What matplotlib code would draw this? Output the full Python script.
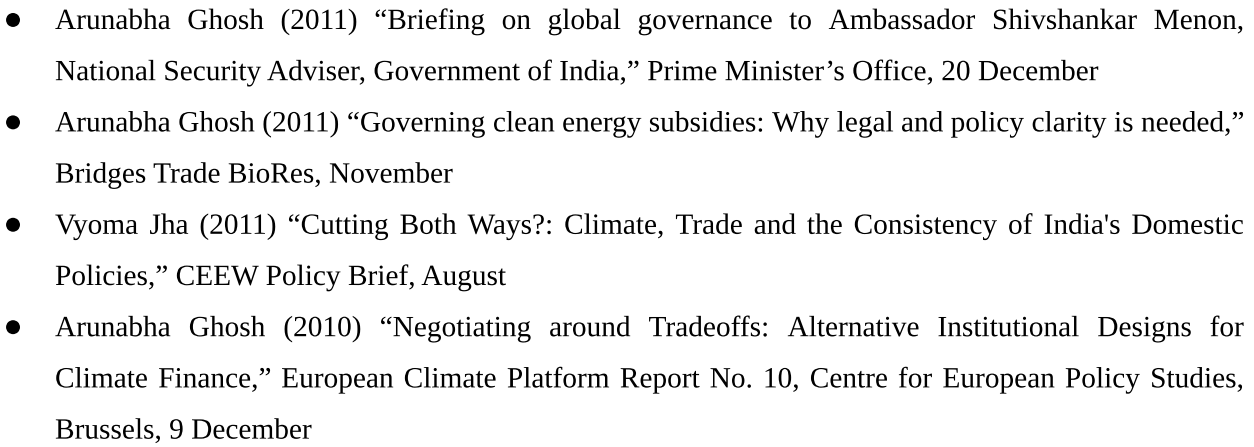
import matplotlib
matplotlib.use("Agg")
import matplotlib.pyplot as plt
import matplotlib.patheffects as pe

# ---- content ----
lines = [
    "Arunabha Ghosh (2011) \u201cBriefing on global governance to Ambassador Shivshankar Menon,",
    "National Security Adviser, Government of India,\u201d Prime Minister\u2019s Office, 20 December",
    "Arunabha Ghosh (2011) \u201cGoverning clean energy subsidies: Why legal and policy clarity is needed,\u201d",
    "Bridges Trade BioRes, November",
    "Vyoma Jha (2011) \u201cCutting Both Ways?: Climate, Trade and the Consistency of India's Domestic",
    "Policies,\u201d CEEW Policy Brief, August",
    "Arunabha Ghosh (2010) \u201cNegotiating around Tradeoffs: Alternative Institutional Designs for",
    "Climate Finance,\u201d European Climate Platform Report No. 10, Centre for European Policy Studies,",
    "Brussels, 9 December",
]
bullet_flags = [True, False, True, False, True, False, True, False, False]
justify_flags = [True, False, True, False, True, False, True, True, False]

# ---- layout ----
W, H = 1254, 447
DPI = 100
font_px = 29.35
font_pt = font_px * 72 / DPI
left_x = 55
right_x = 1244
bullet_x = 13
first_base = 29
line_gap = 51.2

fig = plt.figure(figsize=(W / DPI, H / DPI), dpi=DPI)
ax = fig.add_axes([0, 0, 1, 1])
ax.set_xlim(0, W)
ax.set_ylim(H, 0)
ax.axis("off")
fig.canvas.draw()
renderer = fig.canvas.get_renderer()

fam = "Liberation Serif"
fx = [pe.Normal()]  # draw glyphs as vector outlines -> consistent baselines

def text_w(s):
    t = ax.text(0, 0, s, fontsize=font_pt, family=fam)
    bb = t.get_window_extent(renderer=renderer)
    t.remove()
    return bb.width

for i, (s, b, j) in enumerate(zip(lines, bullet_flags, justify_flags)):
    y = first_base + i * line_gap
    if b:
        ax.text(bullet_x, y + 10.4, "\u2022", fontsize=font_pt * 2.0, family=fam,
                ha="center", va="baseline", color="black", path_effects=fx)
    if j:
        words = s.split(" ")
        widths = [text_w(w) for w in words]
        gap = (right_x - left_x - sum(widths)) / (len(words) - 1)
        x = left_x
        for w, wd in zip(words, widths):
            ax.text(x, y, w, fontsize=font_pt, family=fam, ha="left",
                    va="baseline", color="black", path_effects=fx)
            x += wd + gap
    else:
        ax.text(left_x, y, s, fontsize=font_pt, family=fam, ha="left",
                va="baseline", color="black", path_effects=fx)

fig.savefig("out.png", dpi=DPI, facecolor="white")
